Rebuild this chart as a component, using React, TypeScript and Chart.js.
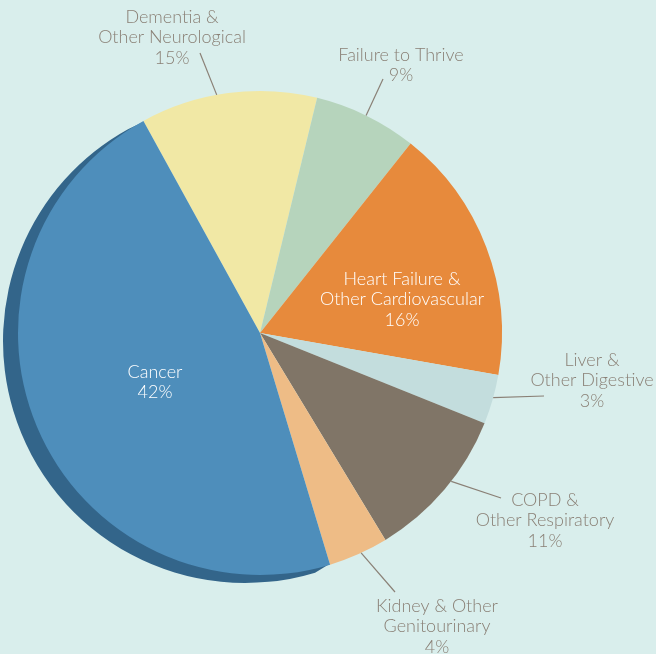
import React, { useEffect, useRef } from "react";
import { Chart, registerables } from "chart.js";

Chart.register(...registerables);

// Slice order is clockwise starting from the Dementia slice
const categories = [
  ["Dementia &", "Other Neurological"],
  ["Failure to Thrive"],
  ["Heart Failure &", "Other Cardiovascular"],
  ["Liver &", "Other Digestive"],
  ["COPD &", "Other Respiratory"],
  ["Kidney & Other", "Genitourinary"],
  ["Cancer"],
];
// Printed percentages
const percentLabels = ["15%", "9%", "16%", "3%", "11%", "4%", "42%"];
// Slice sizes as drawn in the picture (percent of circle)
const sliceValues = [11.8, 6.9, 17.1, 3.3, 10.25, 4.0, 46.7];

const sliceColors = ["#f1e8a5", "#b6d4bc", "#e78a3c", "#c3dddd", "#807567", "#eebc86", "#4e8ebb"];
const BG = "#d9eeec";
const SHADOW = "#33658a";
const TEXT = "#8a8076";

// label layout: text centre x, first line y, whether text is inside, leader start angle (deg from top), leader end
const labelLayout = [
  { x: 172, y: 17, inside: false, leadAngle: -10.3, leadEnd: [200, 53] },
  { x: 401, y: 55, inside: false, leadAngle: 26, leadEnd: [383, 79] },
  { x: 402, y: 279, inside: true },
  { x: 592, y: 360, inside: false, leadAngle: 105.5, leadEnd: [544, 396] },
  { x: 545, y: 500, inside: false, leadAngle: 127.8, leadEnd: [501, 498] },
  { x: 437, y: 606, inside: false, leadAngle: 155.3, leadEnd: [395, 592] },
  { x: 155, y: 372, inside: true },
];

const shadowPlugin = {
  id: "shadowPlugin",
  beforeDatasetsDraw(chart: any) {
    const meta = chart.getDatasetMeta(0);
    const arc = meta.data[6];
    if (!arc) return;
    const { x, y, startAngle, endAngle, outerRadius } = arc.getProps(
      ["x", "y", "startAngle", "endAngle", "outerRadius"],
      true
    );
    const ctx = chart.ctx;
    ctx.save();
    ctx.fillStyle = SHADOW;
    ctx.beginPath();
    const dx = -15, dy = 8;
    ctx.arc(x + dx, y + dy, outerRadius, startAngle, endAngle);
    ctx.arc(x, y, outerRadius - 1, endAngle, startAngle, true);
    ctx.closePath();
    ctx.fill();
    ctx.restore();
  },
};

const labelPlugin = {
  id: "labelPlugin",
  afterDatasetsDraw(chart: any) {
    const meta = chart.getDatasetMeta(0);
    const first = meta.data[0];
    const { x: cx, y: cy, outerRadius: r } = first.getProps(["x", "y", "outerRadius"], true);
    const ctx = chart.ctx;
    ctx.save();
    ctx.font = "300 18px Lato";
    ctx.textAlign = "center";
    ctx.textBaseline = "middle";
    categories.forEach((cat, i) => {
      const lay: any = labelLayout[i];
      const lines = [...cat, percentLabels[i]];
      ctx.fillStyle = lay.inside ? "#ffffff" : TEXT;
      lines.forEach((ln, j) => {
        ctx.fillText(ln, lay.x, lay.y + j * 20.5);
      });
      if (!lay.inside) {
        const a = (lay.leadAngle * Math.PI) / 180;
        const sx = cx + r * Math.sin(a);
        const sy = cy - r * Math.cos(a);
        ctx.strokeStyle = TEXT;
        ctx.lineWidth = 1.2;
        ctx.beginPath();
        ctx.moveTo(sx, sy);
        ctx.lineTo(lay.leadEnd[0], lay.leadEnd[1]);
        ctx.stroke();
      }
    });
    ctx.restore();
  },
};

export default function App() {
  const ref = useRef<HTMLCanvasElement>(null);
  useEffect(() => {
    document.body.style.margin = "0";
    const chart = new Chart(ref.current as HTMLCanvasElement, {
      type: "pie",
      data: {
        labels: categories.map((c) => c.join(" ")),
        datasets: [
          {
            data: sliceValues,
            backgroundColor: sliceColors,
            borderWidth: 0,
          },
        ],
      },
      options: {
        responsive: false,
        animation: false,
        rotation: -28.8,
        layout: { padding: { left: 18, right: 154, top: 91, bottom: 79 } },
        plugins: {
          legend: { display: false },
          tooltip: { enabled: false },
        },
      },
      plugins: [shadowPlugin, labelPlugin],
    });
    return () => chart.destroy();
  }, []);
  return (
    <div style={{ width: 656, height: 654, background: BG }}>
      <canvas ref={ref} width={656} height={654} style={{ display: "block" }} />
    </div>
  );
}
